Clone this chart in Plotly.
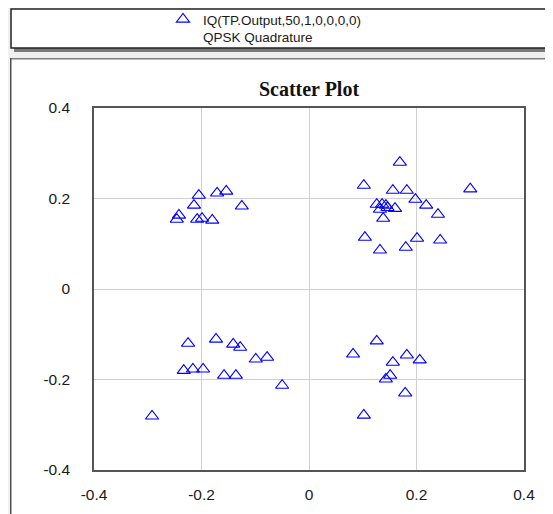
"""QPSK scatter (IQ) plot recreation."""
import plotly.graph_objects as go

# In-phase / quadrature samples
i_values = [
    -0.205, -0.171, -0.154, -0.214, -0.125, -0.242, -0.246, -0.208, -0.199, -0.180,
    0.169, 0.102, 0.300, 0.156, 0.182, 0.198, 0.218, 0.126, 0.143, 0.136,
    0.160, 0.132, 0.146, 0.240, 0.138, 0.104, 0.201, 0.244, 0.132, 0.180,
    -0.225, -0.173, -0.141, -0.128, -0.099, -0.078, -0.233, -0.216, -0.197, -0.158,
    -0.136, -0.050, -0.292,
    0.126, 0.082, 0.182, 0.206, 0.156, 0.151, 0.143, 0.179, 0.102,
]
q_values = [
    0.207, 0.212, 0.216, 0.185, 0.183, 0.163, 0.154, 0.154, 0.156, 0.152,
    0.280, 0.229, 0.221, 0.218, 0.218, 0.198, 0.185, 0.187, 0.185, 0.187,
    0.178, 0.176, 0.180, 0.165, 0.156, 0.114, 0.112, 0.108, 0.086, 0.092,
    -0.120, -0.111, -0.122, -0.129, -0.155, -0.151, -0.180, -0.177, -0.177, -0.191,
    -0.191, -0.213, -0.281,
    -0.115, -0.144, -0.146, -0.157, -0.162, -0.191, -0.199, -0.230, -0.279,
]

tick_vals = [-0.4, -0.2, 0, 0.2, 0.4]
tick_text = ["-0.4", "-0.2", "0", "0.2", "0.4"]

# the page puts the figure 8px in from the window's top-left corner
OFF = 8
W, H = 553 - OFF, 514 - OFF
ML, MR, MT, MB = 94 - OFF, 29, 108 - OFF, 44
PW, PH = W - ML - MR, H - MT - MB


def px(x, y):
    """window pixel position -> paper coordinates"""
    return (x - OFF - ML) / PW, (H - MB - (y - OFF)) / PH


def rect(x0, y0, x1, y1, **kw):
    a, b = px(x0, y1)
    c, d = px(x1, y0)
    return dict(type="rect", xref="paper", yref="paper", x0=a, y0=b, x1=c, y1=d,
                layer="below", **kw)


SANS = "Liberation Sans, Arial, sans-serif"

fig = go.Figure()
fig.add_scatter(
    x=i_values, y=q_values, mode="markers",
    name="IQ(TP.Output,50,1,0,0,0,0)<br>QPSK Quadrature",
    marker=dict(symbol="triangle-up-open", size=11.5, color="#0000ff",
                line=dict(width=1.1, color="#0000ff")),
    showlegend=True,
)

shapes = [
    # chart panel
    rect(11, 59, 600, 600, fillcolor="white", line=dict(width=0)),
    rect(10, 58, 600, 59.5, fillcolor="#808080", line=dict(width=0)),
    rect(10, 58, 11.5, 600, fillcolor="#505050", line=dict(width=0)),
    # legend box with shadow
    rect(14, 48, 600, 52, fillcolor="#7a7a7a", line=dict(width=0)),
    rect(11, 9, 600, 48, fillcolor="white", line=dict(width=1.5, color="#222")),
]

axis_common = dict(
    range=[-0.4, 0.4], tickvals=tick_vals, ticktext=tick_text,
    showgrid=True, gridcolor="#d0d0d0", gridwidth=1, zeroline=False,
    showline=True, mirror=True, linecolor="#555555", linewidth=1.5,
    ticks="outside", tickcolor="rgba(0,0,0,0)",
    tickfont=dict(family=SANS, size=15.5, color="#1a1a1a"),
    fixedrange=True,
)

lx, ly = px(163, 4)
fig.update_layout(
    width=W, height=H,
    margin=dict(l=ML, r=MR, t=MT, b=MB, autoexpand=False),
    paper_bgcolor="#f0f0f0", plot_bgcolor="white",
    title=dict(text="<b>Scatter Plot</b>", x=0.5, xref="paper", xanchor="center",
               y=1 - (89 - OFF) / H, yanchor="middle",
               font=dict(family="Liberation Serif, Times New Roman, serif", size=20, color="#111")),
    xaxis=dict(axis_common, ticklen=10),
    yaxis=dict(axis_common, ticklen=19),
    showlegend=True,
    legend=dict(x=lx, y=ly, xanchor="left", yanchor="top", valign="top",
                bgcolor="rgba(0,0,0,0)", borderwidth=0,
                font=dict(family=SANS, size=13.5, color="#1a1a1a"),
                itemwidth=30, tracegroupgap=0),
    shapes=shapes,
)

fig.write_html("out.html")
